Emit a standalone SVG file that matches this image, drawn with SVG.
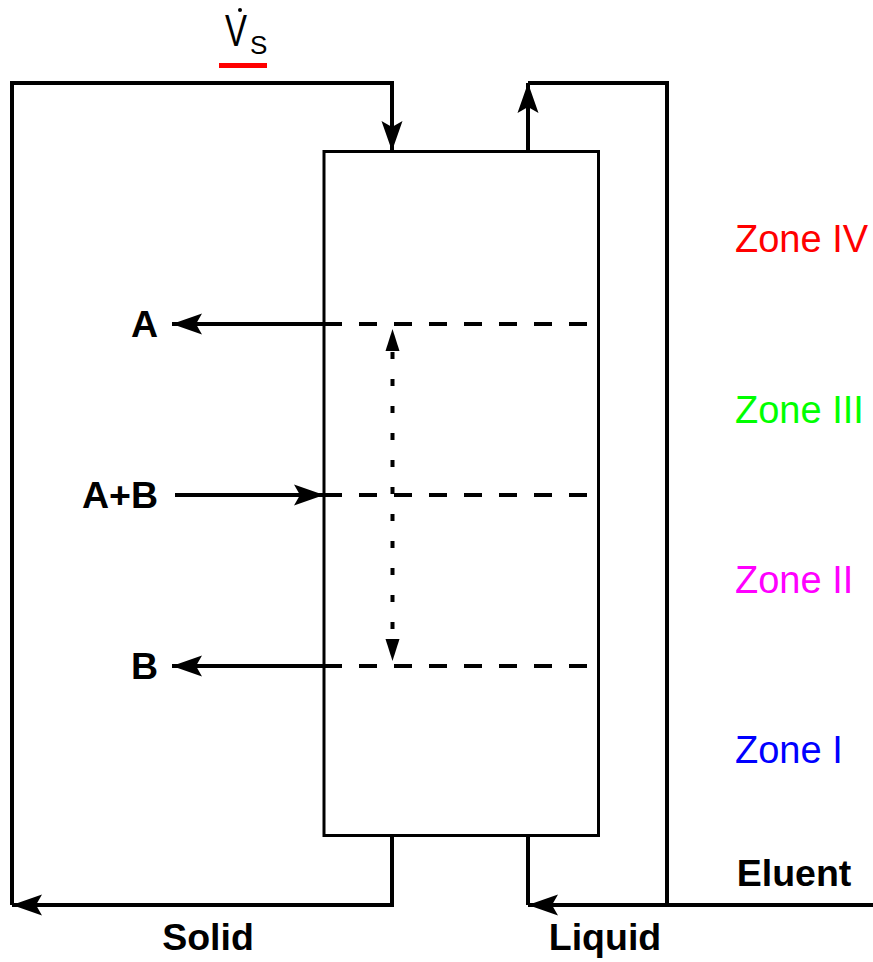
<svg xmlns="http://www.w3.org/2000/svg" width="873" height="962" viewBox="0 0 873 962">
<style>
.bold{font-family:"Liberation Sans",Arial,sans-serif;font-weight:bold;font-size:37.5px;fill:#000}
.zone{font-family:"Liberation Sans",Arial,sans-serif;font-size:38px}
.flow{fill:none;stroke:#000;stroke-width:4}
.dash{fill:none;stroke:#000;stroke-width:4;stroke-dasharray:18 17}
.dot{fill:none;stroke:#000;stroke-width:4;stroke-dasharray:7 20}
</style>
<defs>
<marker id="ah" markerUnits="userSpaceOnUse" markerWidth="32" markerHeight="22" refX="30" refY="10.5" orient="auto" viewBox="0 0 32 21">
<path d="M30,10.5 L0,0 L6,10.5 L0,21 Z" fill="#000"/>
</marker>
</defs>
<rect width="873" height="962" fill="#fff"/>
<g id="column">
<rect x="324" y="151.5" width="274.5" height="684" fill="#fff" stroke="#000" stroke-width="3"/>
</g>
<g id="connectors">
<path class="flow" d="M12,905 L12,83 L392,83 L392,151" marker-end="url(#ah)"/>
<path class="flow" d="M528,151 L528,83" marker-end="url(#ah)"/>
<path class="flow" d="M528,83 L667,83 L667,905"/>
<path class="flow" d="M392,836 L392,905 L12,905" marker-end="url(#ah)"/>
<path class="flow" d="M528,836 L528,905"/>
<path class="flow" d="M873,905 L528,905" marker-end="url(#ah)"/>
<path class="flow" d="M324,324 L172,324" marker-end="url(#ah)"/>
<path class="flow" d="M175,495 L324,495" marker-end="url(#ah)"/>
<path class="flow" d="M324,666 L172,666" marker-end="url(#ah)"/>
<path class="dash" d="M324,324 L590,324"/>
<path class="dash" d="M324,495 L590,495"/>
<path class="dash" d="M324,666 L590,666"/>
<path class="dot" d="M392.5,352 L392.5,640"/>
<path fill="#000" d="M392.5,329 L385.5,351 L399.5,351 Z"/>
<path fill="#000" d="M392.5,661 L385.5,639 L399.5,639 Z"/>
</g>
<g id="labels">
<text class="bold" x="158" y="337" text-anchor="end">A</text>
<text class="bold" x="158" y="508" text-anchor="end">A+B</text>
<text class="bold" x="158" y="679" text-anchor="end">B</text>
<text class="bold" x="208" y="950" text-anchor="middle">Solid</text>
<text class="bold" x="605" y="950" text-anchor="middle">Liquid</text>
<text class="bold" x="794" y="886" text-anchor="middle">Eluent</text>
</g>
<g id="zones">
<text class="zone" x="735" y="252" fill="#ff0000">Zone IV</text>
<text class="zone" x="735" y="423" fill="#00ff00">Zone III</text>
<text class="zone" x="735" y="593" fill="#ff00ff">Zone II</text>
<text class="zone" x="735" y="763" fill="#0000ff">Zone I</text>
</g>
<g id="vs">
<text font-family="'Liberation Sans',Arial,sans-serif" font-size="44" transform="translate(225,46) scale(0.75,1)">V</text>
<circle cx="240" cy="10" r="2" fill="#000"/>
<text font-family="'Liberation Sans',Arial,sans-serif" font-size="26" x="250" y="54">S</text>
<line x1="219" y1="65.5" x2="267" y2="65.5" stroke="#ff0000" stroke-width="5"/>
</g>
</svg>
